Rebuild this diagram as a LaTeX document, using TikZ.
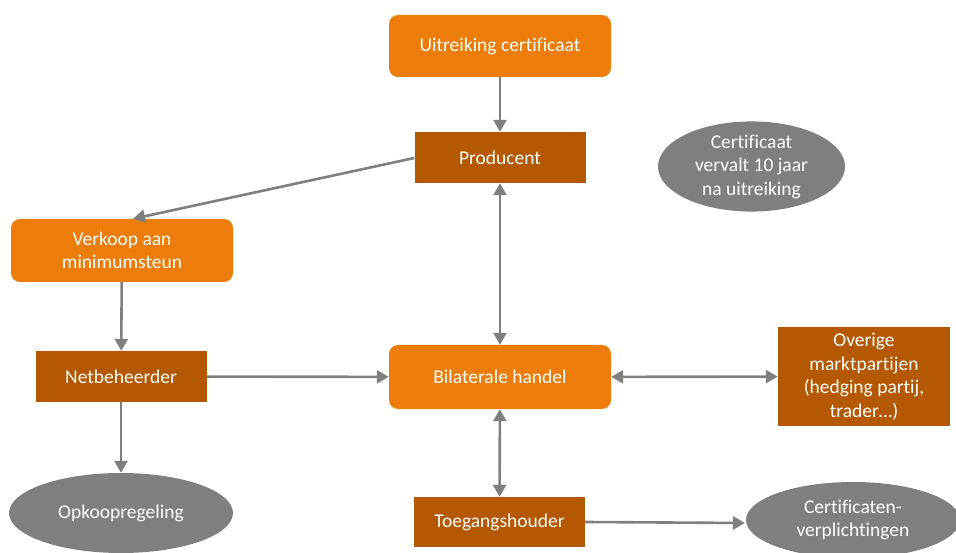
\documentclass[tikz,border=0pt]{standalone}
\usepackage{fontspec}
\setmainfont{Carlito}[Ligatures=NoCommon]
\usetikzlibrary{shapes.geometric,arrows.meta}
\definecolor{orng}{RGB}{237,125,10}
\definecolor{dorng}{RGB}{180,88,2}
\definecolor{gry}{RGB}{127,127,127}
\tikzset{
  base/.style={text=white,font=\fontsize{19.5}{23.5}\selectfont,align=center,inner sep=0pt},
  rbox/.style={base,fill=orng,rounded corners=9pt,minimum width=222pt,minimum height=62pt},
  dbox/.style={base,fill=dorng,minimum width=171pt,minimum height=51pt},
  ell/.style={base,ellipse,fill=gry},
  conn/.style={draw=gry,line width=2.6pt,-{Triangle[length=12pt,width=13pt]}},
  dconn/.style={draw=gry,line width=2.6pt,{Triangle[length=12pt,width=13pt]}-{Triangle[length=12pt,width=13pt]}}
}
\begin{document}
\begin{tikzpicture}[x=1pt,y=-1pt]
\useasboundingbox (0,0) rectangle (956,553);
\node[rbox] (uit) at (500,46) {Uitreiking certificaat};
\node[dbox] (prod) at (500,157.5) {Producent};
\node[ell,minimum width=187pt,minimum height=77pt] (cert) at (751.5,166.5) {Certificaat\\vervalt 10 jaar\\na uitreiking};
\node[rbox,minimum height=63pt] (verk) at (122,250.5) {Verkoop aan\\minimumsteun};
\node[dbox] (net) at (121,376.5) {Netbeheerder};
\node[rbox,minimum height=64pt] (bil) at (500,377) {Bilaterale handel};
\node[dbox,minimum width=172pt,minimum height=99pt] (ovr) at (864,376.5) {Overige\\marktpartijen\\(hedging partij,\\trader…)};
\node[ell,minimum width=224pt,minimum height=80pt] (opk) at (121,513) {Opkoopregeling};
\node[dbox,minimum height=50pt] (toe) at (499.5,522) {Toegangshouder};
\node[ell,minimum width=214pt,minimum height=76pt] (cv) at (853,520) {Certificaten-\\verplichtingen};
\coordinate (cvin) at (745,523);
\draw[conn] (uit) -- (prod);
\draw[conn] (prod.west |- 0,158) -- (verk.north -| 133,0);
\draw[dconn] (prod) -- (bil);
\draw[conn] (verk) -- (net);
\draw[conn] (net) -- (bil);
\draw[conn] (net) -- (opk);
\draw[dconn] (bil) -- (ovr);
\draw[dconn] (bil) -- (toe);
\draw[conn] (toe.east) -- (cvin);
\end{tikzpicture}
\end{document}
